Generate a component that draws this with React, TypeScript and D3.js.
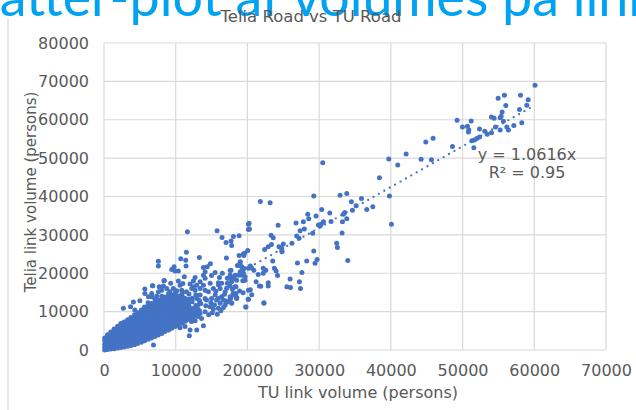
import { useEffect, useRef } from 'react';
import * as d3 from 'd3';

const xTicks = [0, 10000, 20000, 30000, 40000, 50000, 60000, 70000];
const yTicks = [0, 10000, 20000, 30000, 40000, 50000, 60000, 70000, 80000];
const trendSlope = 1.0616;
const trendTu = [0, 59750];

// sparse links, read one by one: [TU, Telia]
const upperLinks = [
  [60100,69000],[54960,65600],[55840,66400],[58080,66400],[59150,65200],[56030,63700],[58960,63800],[57940,62700],
  [55520,62050],[55380,60900],[55240,60500],[54030,60700],[54400,60400],[55700,59600],[54590,58100],[55240,57300],
  [56170,58100],[56400,57300],[57150,58500],[58260,59200],[54030,56600],[53430,56200],[53100,57000],[52360,57600],
  [51200,59700],[49240,59900],[49990,58100],[50680,58300],[50870,57400],[50820,56800],[52360,55500],[51990,55100],
  [51660,54700],[51290,54500],[51570,52700],[48590,53000],[45890,55200],[44870,54200],[42130,51100],[39710,49800],
  [44220,49700],[45660,49600],[40960,48200],[38410,44900],[30500,48800],[29250,40100],[32920,40300],[33850,40800],
  [39800,40100],[35900,39500],[34500,38600],[35150,37600],[37480,37300],[36640,36600],[34640,36400],[30360,36600],
  [28410,35400],[29570,34900],[31480,35700],[28550,34200],[27800,33400],[26780,33100],[33570,35800],[33390,35400],
  [33850,34200],[33250,33400],[31660,33500],[30600,33400],[30270,32800],[29900,32600],[30130,32300],[40080,32800],
  [33200,30500],[29100,30400],[27940,31500],[27340,31100],[26870,29700],[27200,29100],[26200,27850],[25000,27600],
  [24780,26500],[24830,25600],[32450,27800],[32550,26700],[29250,25800],[33990,23300],[29710,23600],[28270,23200],
  [26970,22700],[29430,22600],[27600,20200],[25950,18500],[27250,17800],[25500,16500],[26000,16300],[27400,16050],
];

const midLinks = [
  [21800,38700],[23160,38400],[20230,33000],[20280,31500],[18050,29600],[18840,29800],[17720,28400],[17800,27200],
  [24280,32500],[23300,29900],[23600,29250],[23350,27500],[22900,26900],[22400,26200],[24400,26900],[24800,25800],
  [20040,25950],[19600,25200],[19500,24600],[18840,24650],[23530,23200],[18980,22800],[18600,22000],[19000,22000],
  [20400,21900],[20600,21400],[20900,20800],[19350,20800],[19500,21300],[19200,20000],[22200,21300],[22560,20800],
  [23760,21300],[24000,20600],[22200,20000],[21500,19700],[24200,19400],[17700,20800],[17600,19500],[18300,19500],
  [18740,19500],[18050,18700],[17800,17800],[18400,16500],[19670,18200],[19350,18050],[21200,17800],[22900,17500],
  [22900,16700],[21670,16700],[21860,16600],[20400,15700],[20100,13200],[20600,14400],[18400,14750],[18500,13600],
  [17700,13700],[19800,11200],[22300,12200],[17800,12200],
];

const spreadLinks = [
  [11630,30800],[15770,31100],[16460,29300],[17020,28000],[20140,31400],[20140,32800],[11490,25500],[10700,23800],
  [11400,23400],[11440,21900],[13300,24100],[7580,23100],[7580,21900],[17070,24000],[19440,25000],[9770,21700],
  [9440,21000],[9900,20600],[10370,20600],[13860,21500],[14840,22500],[14400,21700],[14100,20400],[13860,19500],
  [19000,23000],[17600,20700],[19200,21700],[19000,20400],[20140,21300],[19440,20000],[17600,18700],[17200,18700],
  [6800,16750],[8370,18050],[10370,18000],[10600,16900],[12700,18900],[12460,18000],[15000,19400],[14100,18700],
  [16100,18900],[15950,17500],[16400,17400],[18000,18700],[18500,18200],[19200,19500],[19670,19100],[17200,17400],
  [17600,16700],[18300,16500],[20140,15600],[13400,17800],[13860,16900],[12930,16900],[12460,16500],[14800,17400],
  [15250,16050],[16200,16050],[16900,15200],[18300,14300],[18500,13450],[8280,16700],[8750,16050],[8050,15600],
  [9670,16050],[9200,15200],[10140,15450],[10840,15600],[11500,15200],[12230,16050],[12700,15600],[13400,16050],
  [14100,15600],[14560,15200],[15500,14300],[16400,13900],[13400,14300],[15000,13450],[14100,13450],[15950,13450],
  [17600,13450],[12930,13450],[6650,14750],[7350,14050],[22300,12300],[19760,11200],[20140,13200],[17800,12300],
  [17350,12600],[16900,11700],[16650,11100],[15800,9300],[15250,10700],[15950,10850],[13860,6300],[12930,5200],
  [12000,5200],[11900,3700],[6900,1300],[12700,7600],[12200,7400],[11300,6100],[10600,5800],[16650,13000],
  [17580,13900],[18500,13700],[18000,14750],[17100,16100],[15700,13000],[14800,11300],[14100,10000],[13600,8200],
  [14300,13000],[13400,9500],[2700,10850],[5000,12850],[4100,12500],[3700,11300],[4300,10400],[5700,15900],
  [6750,16750],[5700,14750],[6200,13900],[8400,18100],[7700,16500],[6650,13900],[7600,15200],[9440,14300],
  [14900,12300],[15400,11800],[16200,12200],[14600,9200],[15100,9700],[16300,10200],[17000,12800],[18900,15400],
  [19400,14900],[16800,14500],[15600,15300],[13000,11200],[13500,12100],[14200,11500],[12400,8300],[13100,8700],
  [16000,17000],[17900,15800],[11000,17300],[9300,17400],[12000,17200],[11200,19100],[15500,20200],[16500,20000],
];

// solid mass near the origin: one TU value per column with the Telia values stacked on it
const denseTu = [100,500,950,1400,1900,2350,2800,3300,3750,4250,4700,5200,5650,6150,6600,7100,7550,8050,8500,9000,9450,9950,10400,10900,11350,11850,12300,12800,13300];
const denseTelia = [
  [0,700,1500,2400,3100],
  [100,1000,1800,2700,3600,4000],
  [250,800,1700,2500,3400,4300,4700],
  [350,1150,2050,2950,3850,4700,5500],
  [500,1000,1900,2800,3700,4600,5500,6200],
  [650,1450,2350,3250,4150,5050,5950,6900],
  [800,1300,2200,3100,4000,4900,5800,6700,7300],
  [1000,1700,2600,3500,4400,5300,6200,7100,7900],
  [1150,1550,2450,3350,4250,5150,6050,6950,7850,8500],
  [1400,2100,3000,3900,4800,5700,6600,7500,8300,9200],
  [1700,2000,2900,3800,4700,5600,6500,7400,8300,9100,9700],
  [2000,2700,3600,4500,5400,6300,7200,8100,9000,9900,10400],
  [2400,2700,3600,4500,5400,6300,7200,8100,9000,9900,10700,11200],
  [2800,3400,4300,5200,6100,7000,7900,8800,9700,10600,11500,12300],
  [3100,3500,4400,5300,6200,7100,8000,8900,9800,10700,11600,12100],
  [3500,4200,5100,6000,6900,7800,8700,9600,10500,11400,12300,13200],
  [3900,4400,5300,6200,7100,8000,8900,9800,10700,11600,12500,13000],
  [4300,5000,5900,6800,7700,8600,9500,10400,11300,12200,13100,14000],
  [4800,5200,6100,7000,7900,8800,9700,10600,11500,12400,13300,13800],
  [5200,5900,6800,7700,8600,9500,10400,11300,12200,13100,14000,14700],
  [5700,6100,7000,7900,8800,9700,10600,11500,12400,13300,14200],
  [6100,6800,7700,8600,9500,10400,11300,12200,13100,14000,14900],
  [6600,7000,7900,8800,9700,10600,11500,12400,13300,14100],
  [7000,7700,8600,9500,10400,11300,12200,13100,14000,14800],
  [7500,8000,8900,9800,10700,11600,12500,13400],
  [8000,8700,9600,10500,11400,12300,13200,14600],
  [8500,9000,9900,10800,12600,13500],
  [9000,9800,10700,11600,14400],
  [9600,10300,12000,12900],
];

const W = 636, H = 410;
const plot = { left: 104, right: 606, top: 43, bottom: 350 };
const TEXT = '#595959', GRID = '#d9d9d9', DOT = '#4472c4';
const FONT = '"DejaVu Sans", Verdana, sans-serif';

export default function App() {
  const svgRef = useRef<SVGSVGElement>(null);

  useEffect(() => {
    const svg = d3.select(svgRef.current);
    svg.selectAll('*').remove();

    const x = d3.scaleLinear().domain([0, 70000]).range([plot.left, plot.right]);
    const y = d3.scaleLinear().domain([0, 80000]).range([plot.bottom, plot.top]);

    // page behind the chart
    svg.append('line').attr('x1', 8).attr('x2', 8).attr('y1', 18).attr('y2', H)
      .attr('stroke', '#e2e2e2').attr('stroke-width', 1.5);
    svg.append('text').attr('x', -55).attr('y', 16)
      .style('font-family', 'Lato, sans-serif').style('font-size', '53.8px').style('fill', '#00a2f2')
      .text('Scatter-plot af volumes på links');

    // Grid
    svg.append('g').selectAll('line').data(yTicks).enter().append('line')
      .attr('x1', plot.left).attr('x2', plot.right)
      .attr('y1', d => y(d)).attr('y2', d => y(d))
      .attr('stroke', GRID).attr('stroke-width', 1.2);
    svg.append('g').selectAll('line').data(xTicks).enter().append('line')
      .attr('y1', plot.top).attr('y2', plot.bottom)
      .attr('x1', d => x(d)).attr('x2', d => x(d))
      .attr('stroke', GRID).attr('stroke-width', 1.2);

    // Axes, labels only
    svg.append('g').attr('transform', `translate(0,${plot.bottom})`)
      .call(d3.axisBottom(x).tickValues(xTicks).tickFormat(d3.format('d')).tickSize(0).tickPadding(15))
      .call(ax => ax.select('.domain').remove())
      .call(ax => ax.selectAll('text').style('fill', TEXT).style('font-size', '16px').style('font-family', FONT));
    svg.append('g').attr('transform', `translate(${plot.left},0)`)
      .call(d3.axisLeft(y).tickValues(yTicks).tickFormat(d3.format('d')).tickSize(0).tickPadding(15))
      .call(ax => ax.select('.domain').remove())
      .call(ax => ax.selectAll('text').style('fill', TEXT).style('font-size', '16px').style('font-family', FONT));

    const label = (tx: number, ty: number, text: string, size: number, rotate = 0) =>
      svg.append('text')
        .attr('transform', `translate(${tx},${ty}) rotate(${rotate})`)
        .style('text-anchor', 'middle').style('font-family', FONT).style('font-size', `${size}px`).style('fill', TEXT)
        .text(text);

    label(311, 22, 'Telia Road vs TU Road', 16.5);
    label(358, 398, 'TU link volume (persons)', 16);
    label(36, 192, 'Telia link volume (persons)', 15, -90);

    // Points
    const dense = denseTu.flatMap((tu, i) => denseTelia[i].map(telia => [tu, telia]));
    const links = [...dense, ...spreadLinks, ...midLinks, ...upperLinks];
    svg.append('g').selectAll('circle').data(links).enter().append('circle')
      .attr('cx', d => x(d[0])).attr('cy', d => y(d[1])).attr('r', 2.5).attr('fill', DOT);

    // Trend line
    const line = d3.line<number>().x(d => x(d)).y(d => y(d * trendSlope));
    svg.append('path').datum(trendTu).attr('d', line)
      .attr('fill', 'none').attr('stroke', DOT).attr('stroke-width', 2.3)
      .attr('stroke-linecap', 'round').attr('stroke-dasharray', '0 6.2');

    label(527, 160, 'y = 1.0616x', 16);
    label(527, 178, 'R² = 0.95', 16);
  }, []);

  return (
    <svg ref={svgRef} width={W} height={H} viewBox={`0 0 ${W} ${H}`}
      style={{ position: 'absolute', left: 0, top: 0, display: 'block', background: '#fff' }} />
  );
}
